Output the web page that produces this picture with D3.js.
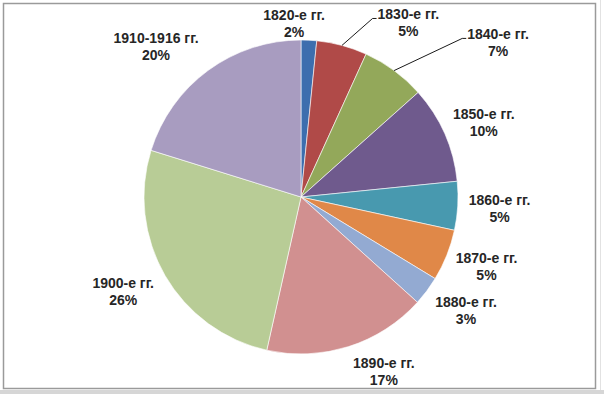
<!DOCTYPE html>
<html lang="ru">
<head>
    <meta charset="UTF-8">
    <title>Pie</title>
    <script src="https://cdnjs.cloudflare.com/ajax/libs/d3/7.8.5/d3.min.js"></script>
    <style>
        body {
            margin: 0;
            background: #fff;
        }
        .label text {
            font-family: "Liberation Sans", Arial, sans-serif;
            font-weight: bold;
            font-size: 14px;
            fill: #262626;
            text-anchor: middle;
        }
        .leader {
            fill: none;
            stroke: #1a1a1a;
            stroke-width: 1;
        }
    </style>
</head>
<body>
    <div id="wrapper"></div>
    <script>
        // data
        const categories = ['1820-е гг.', '1830-е гг.', '1840-е гг.', '1850-е гг.', '1860-е гг.',
            '1870-е гг.', '1880-е гг.', '1890-е гг.', '1900-е гг.', '1910-1916 гг.']
        const shares = [1.6, 5.2, 6.6, 10.0, 5.0, 5.3, 3.0, 16.8, 26.3, 20.2]
        const colors = ['#3d6eae', '#b04a48', '#93a85a', '#6f5a8d', '#4899af',
            '#e08848', '#93aad2', '#d19090', '#b8cc96', '#a89cc0']

        // labels that were dragged away from the default spot (dx, dy) and whether they get a leader
        const labelNudge = {
            '1820-е гг.': [-17, 13],
            '1830-е гг.': [55, 6, true],
            '1840-е гг.': [78, -4, true],
            '1850-е гг.': [-1, 0],
            '1860-е гг.': [-2, 0],
            '1870-е гг.': [-1, 0],
            '1880-е гг.': [4, 1],
            '1890-е гг.': [22, -4],
            '1900-е гг.': [-4, 0],
            '1910-1916 гг.': [-19, 0],
        }

        const dimensions = {
            width: 604,
            height: 394,
            cx: 301,
            cy: 197,
            radius: 157,
            labelGap: 13,
            lineHeight: 17,
        }

        const svg = d3.select('#wrapper')
            .append('svg')
                .attr('width', dimensions.width)
                .attr('height', dimensions.height)

        // chart frame
        svg.append('rect')
            .attr('x', 0).attr('y', 390)
            .attr('width', dimensions.width).attr('height', 4)
            .attr('fill', '#d6d6d6')
        svg.append('line')
            .attr('x1', 600.5).attr('x2', 600.5)
            .attr('y1', 0).attr('y2', 390)
            .attr('stroke', '#e2e2e2')
        svg.append('rect')
            .attr('x', 3.5).attr('y', 3.5)
            .attr('width', 592).attr('height', 385)
            .attr('fill', 'none')
            .attr('stroke', '#9a9a9a')
            .attr('stroke-width', 1.5)

        const data = categories.map((c, i) => ({ name: c, value: shares[i], color: colors[i] }))

        const pie = d3.pie()
            .value(d => d.value)
            .sort(null)

        const arcs = pie(data)

        const arc = d3.arc()
            .innerRadius(0)
            .outerRadius(dimensions.radius)

        const bounds = svg.append('g')
            .attr('transform', `translate(${dimensions.cx},${dimensions.cy})`)

        bounds.selectAll('path')
            .data(arcs)
            .join('path')
                .attr('d', arc)
                .attr('fill', d => d.data.color)
                .attr('stroke', '#fff')
                .attr('stroke-width', 0.6)

        // labels
        const pctFormat = d3.format('.0f')
        const midAngle = d => (d.startAngle + d.endAngle) / 2

        const labels = bounds.selectAll('.label')
            .data(arcs)
            .join('g')
                .attr('class', 'label')

        labels.each(function (d) {
            const g = d3.select(this)
            const t1 = g.append('text').text(d.data.name)
            const t2 = g.append('text').text(pctFormat(d.data.value) + '%')
            const w = Math.max(t1.node().getComputedTextLength(), t2.node().getComputedTextLength())
            const h = dimensions.lineHeight * 2
            const a = midAngle(d)
            const ux = Math.sin(a)
            const uy = -Math.cos(a)
            const r = dimensions.radius + dimensions.labelGap
            const nudge = labelNudge[d.data.name] || [0, 0]
            const x = ux * r + ux * w / 2 + nudge[0]
            const y = uy * r + uy * h / 2 + nudge[1]
            t1.attr('x', x).attr('y', y - 3)
            t2.attr('x', x).attr('y', y + 14)

            if (nudge[2]) {
                const left = x - w / 2
                const p = [ux * dimensions.radius, uy * dimensions.radius]
                bounds.append('path')
                    .attr('class', 'leader')
                    .attr('d', d3.line()([p, [left - 5, y - 4], [left - 1, y - 4]]))
            }
        })
    </script>
</body>
</html>
